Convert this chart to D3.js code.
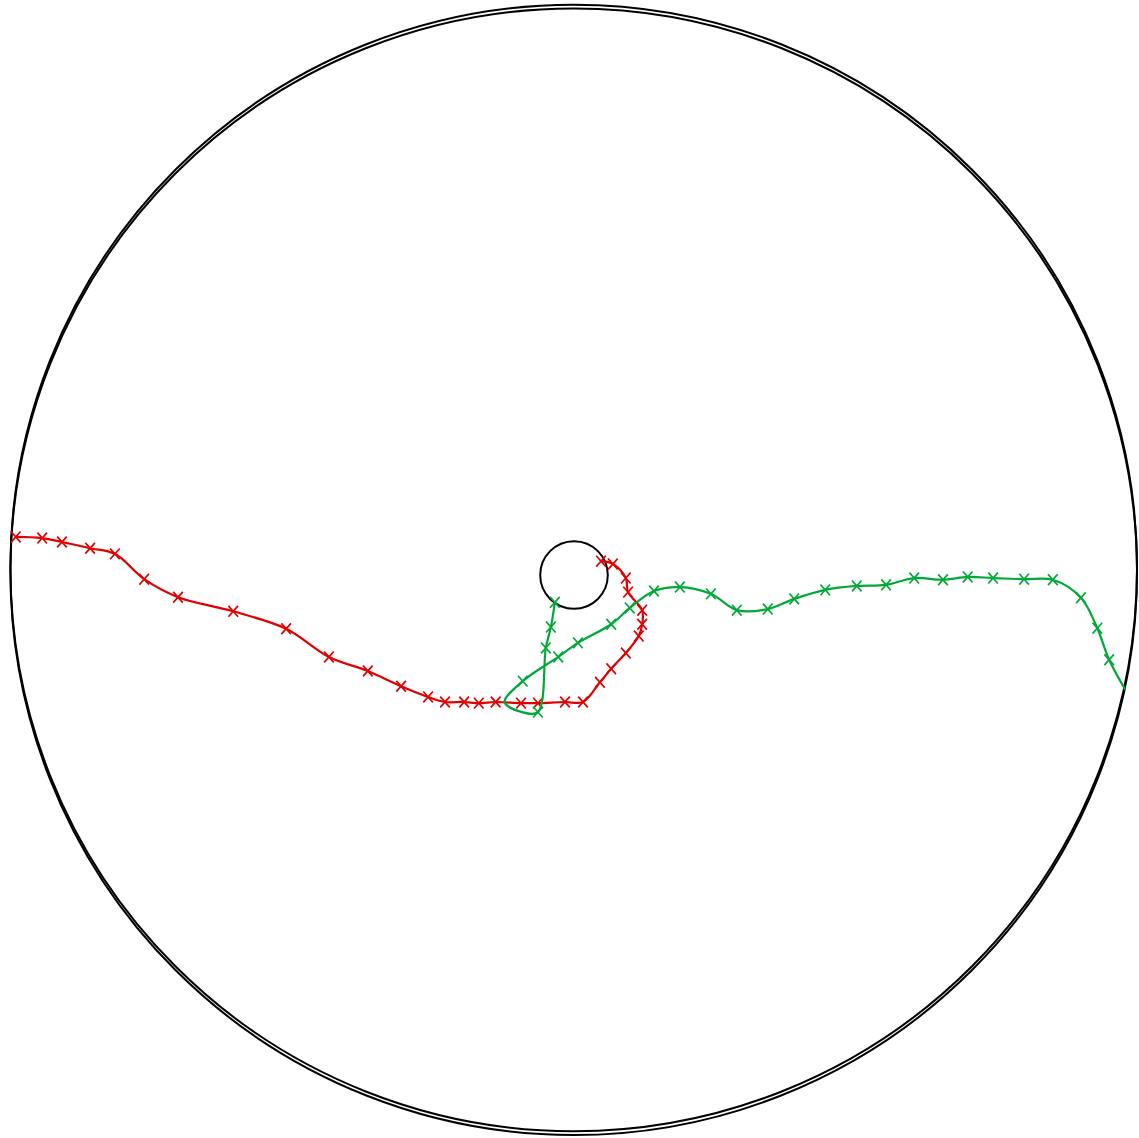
<!DOCTYPE html>
<html>
<head>
<meta charset="utf-8">
<script src="https://cdn.jsdelivr.net/npm/d3@7"></script>
<style>
  html, body { margin: 0; padding: 0; background: #fff; }
  svg { display: block; }
</style>
</head>
<body>
<svg id="chart" width="1139" height="1138"></svg>
<script>
// ---- data (plot units; outer boundary radius = 10) ----
const outerCircles = [
  { cx: -0.005, cy: 0.089, r: 10 },
  { cx: -0.005, cy: 0.022, r: 10 }
];
const innerCircle = { cx: 0.0, cy: -0.036, r: 0.6 };

// red trajectory (all points marked)
const redX = [0.48, 0.69, 0.92, 0.96, 1.21, 1.21, 1.15, 0.92, 0.66, 0.46, 0.16, -0.16, -0.64, -0.94, -1.39, -1.69, -1.95, -2.29, -2.59, -3.07, -3.66, -4.35, -5.11, -6.05, -7.03, -7.63, -8.15, -8.59, -9.09, -9.44, -9.91];
const redY = [0.21, 0.16, -0.09, -0.34, -0.66, -0.91, -1.12, -1.42, -1.70, -1.94, -2.29, -2.29, -2.31, -2.31, -2.29, -2.31, -2.29, -2.29, -2.20, -2.01, -1.74, -1.49, -0.99, -0.68, -0.43, -0.11, 0.34, 0.44, 0.55, 0.62, 0.64];
const redMarked = redX.map(() => true);

// green trajectory (false = path point without marker)
const greenX = [-0.34, -0.41, -0.50, -0.64, -0.92, -1.23, -0.91, -0.28, 0.07, 0.66, 0.99, 1.42, 1.88, 2.43, 2.89, 3.44, 3.91, 4.46, 5.02, 5.54, 6.04, 6.55, 6.99, 7.44, 7.99, 8.50, 9.00, 9.29, 9.50, 9.78];
const greenY = [-0.52, -0.96, -1.33, -2.47, -2.47, -2.29, -1.92, -1.49, -1.24, -0.91, -0.62, -0.32, -0.25, -0.37, -0.66, -0.64, -0.46, -0.30, -0.23, -0.21, -0.09, -0.12, -0.07, -0.09, -0.11, -0.12, -0.44, -0.98, -1.54, -2.06];
const greenMarked = [true, true, true, true, false, false, true, true, true, true, true, true, true, true, true, true, true, true, true, true, true, true, true, true, true, true, true, true, true, false];

const series = [
  { name: "red", color: "#e00000", xs: redX, ys: redY, marked: redMarked },
  { name: "green", color: "#00a838", xs: greenX, ys: greenY, marked: greenMarked }
];

// ---- layout ----
const W = 1139, H = 1138;
const cxPx = 574, cyPx = 573, rPx = 563.3;
const x = d3.scaleLinear().domain([-10, 10]).range([cxPx - rPx, cxPx + rPx]);
const y = d3.scaleLinear().domain([-10, 10]).range([cyPx + rPx, cyPx - rPx]);
const kr = v => x(v) - x(0);

const svg = d3.select("#chart");

svg.selectAll("circle.outer")
  .data(outerCircles)
  .join("circle")
  .attr("class", "outer")
  .attr("cx", d => x(d.cx))
  .attr("cy", d => y(d.cy))
  .attr("r", d => kr(d.r))
  .attr("fill", "none")
  .attr("stroke", "#000")
  .attr("stroke-width", 2);

svg.append("circle")
  .attr("cx", x(innerCircle.cx))
  .attr("cy", y(innerCircle.cy))
  .attr("r", kr(innerCircle.r))
  .attr("fill", "none")
  .attr("stroke", "#000")
  .attr("stroke-width", 2);

const line = d3.line()
  .x(d => x(d[0]))
  .y(d => y(d[1]))
  .curve(d3.curveCatmullRom.alpha(0.5));

series.forEach(s => {
  const pts = s.xs.map((v, i) => [v, s.ys[i], s.marked[i]]);
  const g = svg.append("g").attr("class", s.name);
  g.append("path")
    .attr("d", line(pts))
    .attr("fill", "none")
    .attr("stroke", s.color)
    .attr("stroke-width", 2.2)
    .attr("stroke-linejoin", "round")
    .attr("stroke-linecap", "round");
  const hw = 4.8, hh = 5.4;
  g.selectAll("path.mk")
    .data(pts.filter(p => p[2]))
    .join("path")
    .attr("class", "mk")
    .attr("d", p => {
      const px = x(p[0]), py = y(p[1]);
      return `M${px - hw},${py - hh}L${px + hw},${py + hh}M${px - hw},${py + hh}L${px + hw},${py - hh}`;
    })
    .attr("fill", "none")
    .attr("stroke", s.color)
    .attr("stroke-width", 1.7);
});
</script>
</body>
</html>
